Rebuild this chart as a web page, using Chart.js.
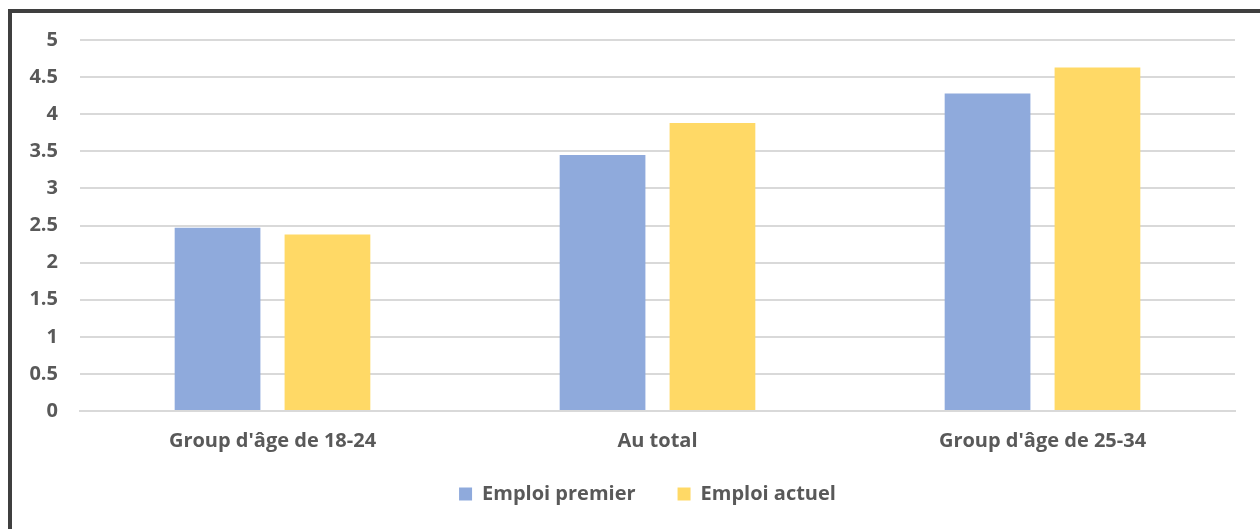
<!DOCTYPE html>
<html>
<head>
<meta charset="utf-8">
<script src="https://cdn.jsdelivr.net/npm/chart.js@4"></script>
<style>
  html, body { margin: 0; padding: 0; background: #fff; }
  #frame {
    position: absolute;
    left: 8px;
    top: 9px;
    width: 1260px;
    height: 530px;
    border-top: 4px solid #3f3f3f;
    border-left: 4px solid #3f3f3f;
  }
  #wrap { position: absolute; left: 12px; top: 13px; width: 1248px; height: 516px; }
</style>
</head>
<body>
<div id="frame"></div>
<div id="wrap"><canvas id="chart"></canvas></div>
<script>
const categories = ["Group d'âge de 18-24", "Au total", "Group d'âge de 25-34"];
const premier = [2.47, 3.45, 4.28];
const actuel = [2.38, 3.88, 4.63];
const yTicks = [0, 0.5, 1, 1.5, 2, 2.5, 3, 3.5, 4, 4.5, 5];

const textColor = "#595959";
const font = { family: "'Open Sans', sans-serif", size: 20, weight: "bold" };

// legend uses a wide item padding, so pull its box up closer to the axis labels
const legendShift = {
  id: "legendShift",
  afterLayout(chart) {
    const lg = chart.legend;
    lg.top -= 12;
    lg.bottom -= 12;
    lg.left += 24;
    lg.right += 24;
  },
};

const ctx = document.getElementById("chart").getContext("2d");
new Chart(ctx, {
  type: "bar",
  data: {
    labels: categories,
    datasets: [
      {
        label: "Emploi premier",
        data: premier,
        backgroundColor: "#8faadc",
      },
      {
        label: "Emploi actuel",
        data: actuel,
        backgroundColor: "#ffd966",
      },
    ],
  },
  plugins: [legendShift],
  options: {
    responsive: true,
    maintainAspectRatio: false,
    animation: false,
    categoryPercentage: 0.571,
    barPercentage: 0.78,
    layout: { padding: { top: 27, right: 25, bottom: 9, left: 0 } },
    plugins: {
      tooltip: { enabled: false },
      legend: {
        position: "bottom",
        maxHeight: 66,
        labels: {
          color: textColor,
          font: font,
          boxWidth: 13,
          boxHeight: 13,
          padding: 42,
        },
      },
    },
    scales: {
      x: {
        grid: { display: false },
        border: { color: "#d9d9d9", width: 2 },
        ticks: { color: textColor, font: font, padding: 10 },
        afterFit: (scale) => { scale.height = 43; },
      },
      y: {
        min: 0,
        max: 5,
        afterBuildTicks: (scale) => {
          scale.ticks = yTicks.map((v) => ({ value: v }));
        },
        // invisible tick marks keep the labels away from the grid
        grid: {
          color: "#d9d9d9",
          lineWidth: 2,
          drawTicks: true,
          tickLength: 22,
          tickColor: "rgba(0,0,0,0)",
        },
        border: { display: false },
        ticks: {
          color: textColor,
          font: font,
          padding: 0,
          callback: (v) => String(v),
        },
        afterFit: (scale) => { scale.width = 68; },
      },
    },
  },
});
</script>
</body>
</html>
